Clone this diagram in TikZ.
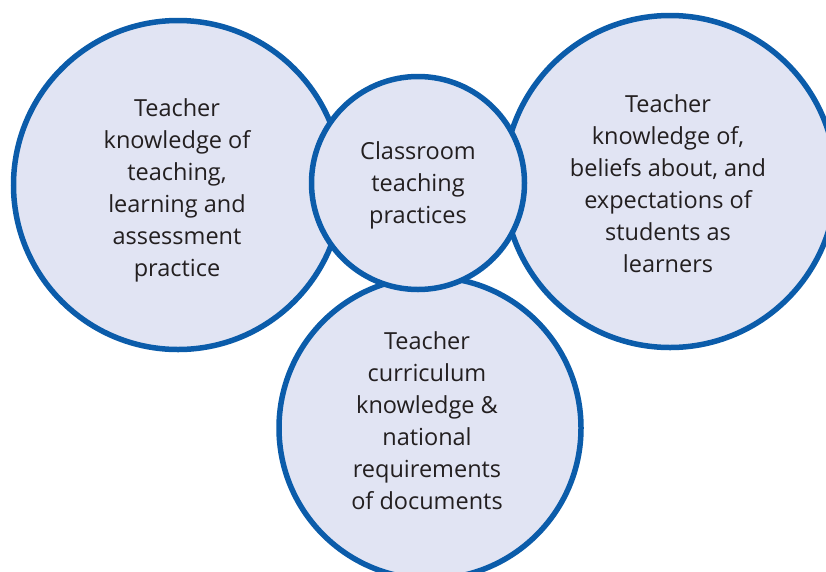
\documentclass[tikz,border=0pt]{standalone}
\usepackage{fontspec}
\setmainfont{Open Sans}
\usetikzlibrary{positioning}

\definecolor{ringblue}{HTML}{0B5CAA}
\definecolor{discfill}{HTML}{E1E4F3}
\definecolor{inktext}{HTML}{231F20}

\tikzset{
  disc/.style={circle,draw=ringblue,fill=discfill,line width=5.5pt,inner sep=0pt},
  disctext/.style={align=center,text=inktext,inner sep=0pt,
    font=\fontsize{23.5}{32}\selectfont}
}

\begin{document}
\begin{tikzpicture}[x=1pt,y=-1pt]
\useasboundingbox (0,0) rectangle (826,571);
\clip (0,0) rectangle (826,571);

% the four discs, middle one last so it sits on top
\node[disc,minimum size=329pt] (pedagogy) at (178,185) {};
\node[disc,minimum size=332pt] (students) at (670,181.5) {};
\node[disc,minimum size=302pt] (curriculum) at (430,428) {};
\node[disc,minimum size=213pt] (practice) at (418,183) {};

% labels
\node[disctext] (pedagogyText) at (177,190)
  {Teacher\\knowledge of\\teaching,\\learning and\\assessment\\practice};
\node[disctext] (studentsText) at (668,184)
  {Teacher\\knowledge of,\\beliefs about, and\\expectations of\\students as\\learners};
\node[disctext] (curriculumText) at (427,421)
  {Teacher\\curriculum\\knowledge \&\\national\\requirements\\of documents};
\node[disctext] (practiceText) at (418,185)
  {Classroom\\teaching\\practices};

\end{tikzpicture}
\end{document}
